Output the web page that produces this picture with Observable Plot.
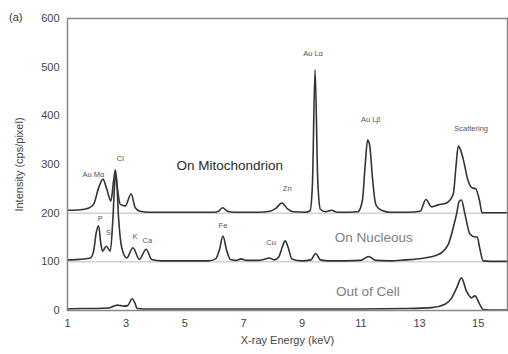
<!DOCTYPE html>
<html>
<head>
<meta charset="utf-8">
<script src="https://cdn.jsdelivr.net/npm/d3@7"></script>
<script src="https://cdn.jsdelivr.net/npm/@observablehq/plot@0.6"></script>
<style>
  html, body { margin: 0; padding: 0; background: #fff; }
  #wrap { position: relative; width: 508px; height: 354px; font-family: "Liberation Sans", Arial, sans-serif; }
  #panel { position: absolute; left: 9px; top: 11px; font-size: 11px; color: #333; }
</style>
</head>
<body>
<div id="wrap"><div id="panel">(a)</div></div>
<script>
// Energy (keV) sample points and intensities (cps/pixel) (offset spectra)
const mitoEnergy = [1.0,1.44,1.7,1.89,2.06,2.21,2.34,2.48,2.57,2.63,2.7,2.8,2.97,3.17,3.31,3.47,3.8,5.0,6.0,6.15,6.29,6.45,6.7,7.5,7.9,8.1,8.31,8.5,8.7,9.1,9.27,9.35,9.44,9.53,9.62,9.8,10.0,10.2,10.6,10.9,11.05,11.15,11.23,11.3,11.4,11.5,11.6,11.75,12.0,12.6,13.02,13.22,13.41,13.64,13.92,14.15,14.25,14.32,14.4,14.49,14.66,14.83,14.9,15.05,15.13,15.4,16];
const mitoIntensity = [206,207,210,218,252,270,249,225,266,289,252,218,215,240,211,204,202,202,202,204,211,204,202,202,204,210,221,209,203,202,205,260,495,270,208,203,206,202,202,203,225,300,350,340,270,220,210,205,202,202,204,228,213,217,221,239,300,338,330,311,266,251,251,225,201,201,201];

const nucEnergy = [1.0,1.4,1.78,1.89,1.98,2.06,2.14,2.2,2.32,2.46,2.55,2.62,2.66,2.74,2.85,3.02,3.23,3.45,3.68,3.87,4.2,5,5.8,6.05,6.18,6.3,6.42,6.55,6.75,6.92,7.1,7.5,7.75,7.88,8.05,8.2,8.32,8.42,8.52,8.65,9.0,9.3,9.46,9.62,9.9,10.5,11.0,11.27,11.5,12.0,12.5,13.07,13.64,13.98,14.15,14.27,14.35,14.43,14.55,14.72,14.89,14.97,15.05,15.17,15.4,16];
const nucIntensity = [104,105,108,122,160,174,136,122,132,122,191,270,278,191,129,108,129,105,126,105,102,102,102,106,125,153,125,105,103,106,103,103,106,108,104,110,130,143,130,106,102,104,117,104,102,102,103,111,103,102,104,107,115,136,170,200,224,227,198,157,151,151,129,102,101,101];

const outEnergy = [1.0,1.5,2.0,2.4,2.58,2.7,2.82,2.92,3.05,3.2,3.3,3.37,3.6,5,7,9,11,12.5,13.41,13.87,14.1,14.27,14.43,14.6,14.77,14.89,15.05,15.17,15.4,16];
const outIntensity = [3,4,4,5,9,11,10,9,10,24,15,4,3,3,3,3,3,4,6,13,26,47,67,40,26,30,13,2,1,1];

const baselines = [100, 200];
const xTicks = [1,3,5,7,9,11,13,15];
const yTicks = [0,100,200,300,400,500,600];

// Peak annotations: label, energy, intensity
const peakText = ["Au Mα","Cl","Zn","Au Lα","Au Lβ","Scattering","P","S","K","Ca","Fe","Cu"];
const peakX    = [1.88, 2.8, 8.49, 9.37, 11.34, 14.76, 2.12, 2.4, 3.3, 3.72, 6.3, 7.94];
const peakY    = [280, 313, 250, 527, 393, 373, 188, 160, 151, 144, 175, 139];

const seriesText = ["On Mitochondrion","On Nucleous","Out of Cell"];
const seriesX    = [6.53, 11.44, 11.24];
const seriesY    = [297, 149, 38];
const seriesFill = ["#2a2a2a","#808080","#808080"];

const toRows = (xs, ys) => xs.map((x, i) => ({x, y: ys[i]}));
const mito = toRows(mitoEnergy, mitoIntensity);
const nuc = toRows(nucEnergy, nucIntensity);
const out = toRows(outEnergy, outIntensity);
const peaks = peakText.map((t, i) => ({t, x: peakX[i], y: peakY[i]}));
const series = seriesText.map((t, i) => ({t, x: seriesX[i], y: seriesY[i], c: seriesFill[i]}));

const lineOpts = {x: "x", y: "y", stroke: "#333", strokeWidth: 1.6, curve: "monotone-x"};

const chart = Plot.plot({
  width: 508,
  height: 354,
  marginLeft: 67,
  marginRight: 1,
  marginTop: 18,
  marginBottom: 44,
  style: {fontFamily: "Liberation Sans, Arial, sans-serif", fontSize: "11px", color: "#444", background: "#fff"},
  x: {domain: [1, 16], ticks: xTicks, tickSize: 0, tickPadding: 9, label: "X-ray Energy (keV)", labelAnchor: "center", labelArrow: "none", labelOffset: 33},
  y: {domain: [0, 600], ticks: yTicks, tickSize: 0, tickPadding: 8, label: "Intensity (cps/pixel)", labelAnchor: "center", labelArrow: "none", labelOffset: 52},
  marks: [
    Plot.ruleY(baselines, {stroke: "#bbb", strokeWidth: 1}),
    Plot.line(out, lineOpts),
    Plot.line(nuc, lineOpts),
    Plot.line(mito, lineOpts),
    Plot.text(peaks, {x: "x", y: "y", text: "t", fontSize: 7.5, fill: "#555"}),
    Plot.text(series, {x: "x", y: "y", text: "t", fontSize: 13.5, fill: "c"}),
    Plot.frame({stroke: "#888", strokeWidth: 1.5})
  ]
});
document.getElementById("wrap").appendChild(chart);
</script>
</body>
</html>
